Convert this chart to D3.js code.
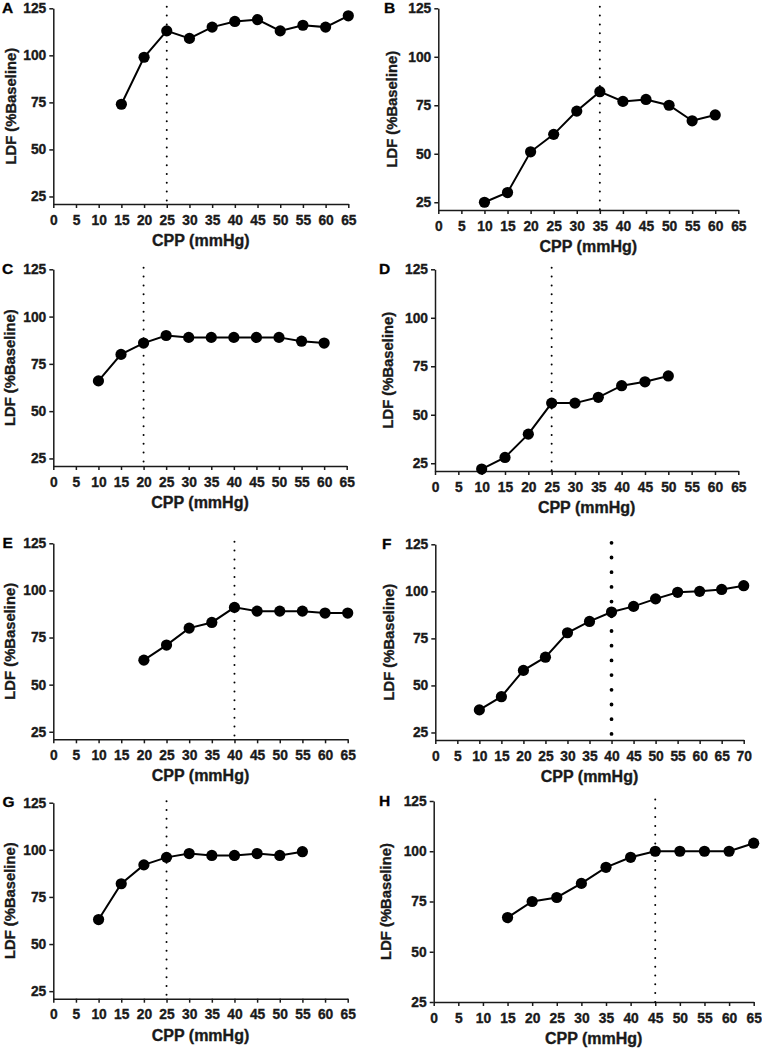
<!DOCTYPE html>
<html>
<head>
<meta charset="utf-8">
<script src="https://cdn.jsdelivr.net/npm/d3@7"></script>
<style>
  body { margin: 0; background: #fff; }
  svg { display: block; font-family: 'Liberation Sans', Arial, sans-serif; font-weight: bold; }
  svg text { stroke: #1a1a1a; stroke-width: 0.35px; }
</style>
</head>
<body>
<div id="chart"></div>
<script>
// data --------------------------------------------------------------
const panelLetters = ['A', 'B', 'C', 'D', 'E', 'F', 'G', 'H'];
const yTicks = [25, 50, 75, 100, 125];
const xTicks65 = [0, 5, 10, 15, 20, 25, 30, 35, 40, 45, 50, 55, 60, 65];
const xTicks70 = [0, 5, 10, 15, 20, 25, 30, 35, 40, 45, 50, 55, 60, 65, 70];

const cppA = [15, 20, 25, 30, 35, 40, 45, 50, 55, 60, 65];
const ldfA = [74, 99, 113, 109, 115, 118, 119, 113, 116, 115, 121];
const cppB = [10, 15, 20, 25, 30, 35, 40, 45, 50, 55, 60];
const ldfB = [25, 30, 51, 60, 72, 82, 77, 78, 75, 67, 70];
const cppC = [10, 15, 20, 25, 30, 35, 40, 45, 50, 55, 60];
const ldfC = [66, 80, 86, 90, 89, 89, 89, 89, 89, 87, 86];
const cppD = [10, 15, 20, 25, 30, 35, 40, 45, 50];
const ldfD = [22, 28, 40, 56, 56, 59, 65, 67, 70];
const cppE = [20, 25, 30, 35, 40, 45, 50, 55, 60, 65];
const ldfE = [63, 71, 80, 83, 91, 89, 89, 89, 88, 88];
const cppF = [10, 15, 20, 25, 30, 35, 40, 45, 50, 55, 60, 65, 70];
const ldfF = [37, 44, 58, 65, 78, 84, 89, 92, 96, 99.5, 100, 101, 103];
const cppG = [10, 15, 20, 25, 30, 35, 40, 45, 50, 55];
const ldfG = [63, 82, 92, 96, 98, 97, 97, 98, 97, 99];
const cppH = [15, 20, 25, 30, 35, 40, 45, 50, 55, 60, 65];
const ldfH = [67, 75, 77, 84, 92, 97, 100, 100, 100, 100, 104];

// break point (dotted line) per panel
const breakpoints = [25, 35, 20, 25, 40, 40, 25, 45];
const yMins = [21, 21, 21, 21, 21, 21, 21, 25];

const cpps = [cppA, cppB, cppC, cppD, cppE, cppF, cppG, cppH];
const ldfs = [ldfA, ldfB, ldfC, ldfD, ldfE, ldfF, ldfG, ldfH];
const xTickSets = [xTicks65, xTicks65, xTicks65, xTicks65, xTicks65, xTicks70, xTicks65, xTicks65];

// layout of each panel (pixels) --------------------------------------
// left = x of 0, right = x of last tick, top = y of 125, bottom = x axis
const frames = [
  {left: 53.3, right: 348.3, top: 8.3, bottom: 204, letterX: 2, ylabX: 15.7},
  {left: 438.3, right: 738.3, top: 8.3, bottom: 210, letterX: 384, ylabX: 396.7},
  {left: 53.3, right: 346.7, top: 269.3, bottom: 466, letterX: 2, ylabX: 15.3},
  {left: 435, right: 738.3, top: 269.3, bottom: 471, letterX: 379, ylabX: 393},
  {left: 53.3, right: 347.7, top: 543.3, bottom: 739.3, letterX: 2.5, ylabX: 15.3},
  {left: 435.3, right: 743.7, top: 544.3, bottom: 740, letterX: 382, ylabX: 393.7},
  {left: 53.3, right: 347.7, top: 802.7, bottom: 998.7, letterX: 2.5, ylabX: 15.3},
  {left: 433.7, right: 753.7, top: 801, bottom: 1002, letterX: 379, ylabX: 391}
];

const svg = d3.select('#chart').append('svg')
  .attr('width', 762)
  .attr('height', 1048);

panelLetters.forEach((letter, i) => {
  const f = frames[i];
  const xt = xTickSets[i];
  const x = d3.scaleLinear().domain([0, xt[xt.length - 1]]).range([f.left, f.right]);
  const y = d3.scaleLinear().domain([yMins[i], 125]).range([f.bottom, f.top]);
  const pts = cpps[i].map((c, j) => ({x: c, y: ldfs[i][j]}));

  const g = svg.append('g').attr('class', 'panel-' + letter);

  // axes
  const xAxis = g.append('g')
    .attr('transform', `translate(0,${f.bottom})`)
    .call(d3.axisBottom(x).tickValues(xt).tickSize(4).tickSizeOuter(0).tickPadding(7));
  const yAxis = g.append('g')
    .attr('transform', `translate(${f.left},0)`)
    .call(d3.axisLeft(y).tickValues(yTicks).tickSize(4).tickSizeOuter(0).tickPadding(3));

  [xAxis, yAxis].forEach(a => {
    a.attr('font-family', null).attr('font-size', null);
    a.selectAll('path, line').attr('stroke', '#1a1a1a').attr('stroke-width', 1.5);
    a.selectAll('text').style('font-size', '13.8px').style('font-weight', 'bold').attr('fill', '#1a1a1a');
  });

  // dotted break point line
  const bigDots = letter === 'F';
  g.append('line')
    .attr('x1', x(breakpoints[i]))
    .attr('x2', x(breakpoints[i]))
    .attr('y1', y(125) - 1.5)
    .attr('y2', f.bottom)
    .attr('stroke', '#000')
    .attr('stroke-width', bigDots ? 3.8 : 2)
    .attr('stroke-linecap', 'round')
    .attr('stroke-dasharray', bigDots ? '0 14.7' : '0 8.8');

  // series
  g.append('path')
    .datum(pts)
    .attr('fill', 'none')
    .attr('stroke', '#000')
    .attr('stroke-width', 2)
    .attr('d', d3.line().x(d => x(d.x)).y(d => y(d.y)));

  g.selectAll('circle').data(pts).enter().append('circle')
    .attr('cx', d => x(d.x))
    .attr('cy', d => y(d.y))
    .attr('r', 5.6)
    .attr('fill', '#000');

  // titles
  g.append('text')
    .attr('x', (f.left + f.right) / 2)
    .attr('y', f.bottom + 42)
    .attr('text-anchor', 'middle')
    .style('font-size', '16px')
    .attr('fill', '#1a1a1a')
    .text('CPP (mmHg)');

  g.append('text')
    .attr('transform', `translate(${f.ylabX},${(f.top + f.bottom) / 2}) rotate(-90)`)
    .attr('text-anchor', 'middle')
    .style('font-size', '14.8px')
    .attr('fill', '#1a1a1a')
    .text('LDF (%Baseline)');

  g.append('text')
    .attr('x', f.letterX)
    .attr('y', f.top + 4.5)
    .style('font-size', '15.5px')
    .attr('fill', '#000')
    .attr('stroke', '#000')
    .text(letter);
});
</script>
</body>
</html>
